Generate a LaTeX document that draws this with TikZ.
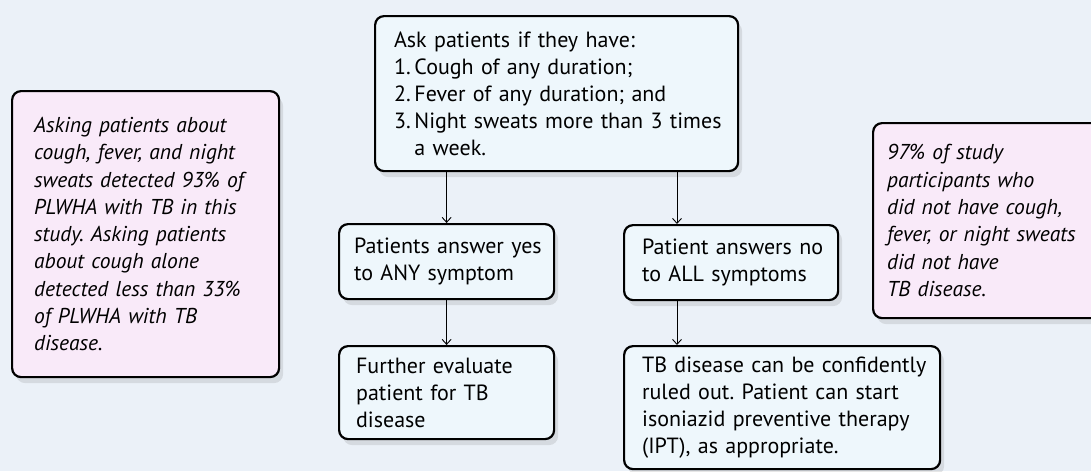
\documentclass[tikz,border=0pt]{standalone}
\usepackage{fontspec}
\setmainfont{PT Sans}
\usetikzlibrary{arrows.meta,shadows}

\definecolor{bgblue}{HTML}{EBF1F8}
\definecolor{boxblue}{HTML}{EEF7FC}
\definecolor{boxpink}{HTML}{F9EAF9}

\begin{document}
\frenchspacing
\begin{tikzpicture}[x = 1pt, y = -1pt, line width = 2.2pt,
                        flowbox/.style = {draw, fill = boxblue, rounded corners = 9pt, anchor = north west,
                                          align = left, inner xsep = 12pt, inner ysep = 0pt,
                                          font = \fontsize{22}{27}\selectfont\frenchspacing,
                                          drop shadow = {shadow xshift = 4pt, shadow yshift = -6pt, opacity = 0.2}},
                        notebox/.style = {flowbox, fill = boxpink, font = \fontsize{21.5}{27.3}\selectfont\itshape\frenchspacing},
                        arr/.style = {line width = 0.9pt, -{Straight Barb[length = 5pt, width = 9pt]}}]
      \useasboundingbox [fill = bgblue] (0, 0) rectangle (1091, 471);

      \node [flowbox, text width = 339pt, minimum height = 155pt] (ask) at (374, 15)
            {\hspace*{7pt}Ask patients if they have:\\
             \hspace*{7pt}1.\,Cough of any duration;\\
             \hspace*{7pt}2.\,Fever of any duration; and\\
             \hspace*{7pt}3.\,Night sweats more than 3 times\\
             \hspace*{7pt}\phantom{3.\,}a week.};
      \node [flowbox, text width = 191pt, minimum height = 75pt] (yes) at (338, 223)
            {\hspace*{3pt}Patients answer yes\\\hspace*{3pt}to ANY symptom};
      \node [flowbox, text width = 190pt, minimum height = 75pt] (no) at (623, 224)
            {\hspace*{6pt}Patient answers no\\\hspace*{6pt}to ALL symptoms};
      \node [flowbox, text width = 191pt, minimum height = 93pt] (further) at (338, 345)
            {\hspace*{5pt}Further evaluate\\\hspace*{5pt}patient for TB\\\hspace*{5pt}disease};
      \node [flowbox, text width = 292pt, minimum height = 123pt] (ruled) at (623, 345)
            {\hspace*{6pt}TB disease can be confidently\\\hspace*{6pt}ruled out. Patient can start\\\hspace*{6pt}isoniazid preventive therapy\\\hspace*{6pt}(IPT), as appropriate.};

      \node [notebox, text width = 233pt, minimum height = 286pt, inner xsep = 17pt] (left) at (11, 90)
            {\hspace*{5pt}Asking patients about\\\hspace*{5pt}cough, fever, and night\\\hspace*{5pt}sweats detected 93\% of\\\hspace*{5pt}PLWHA with TB in this\\\hspace*{5pt}study. Asking patients\\\hspace*{5pt}about cough alone\\\hspace*{5pt}detected less than 33\%\\\hspace*{5pt}of PLWHA with TB\\\hspace*{5pt}disease.};
      \node [notebox, text width = 210pt, minimum height = 195pt, inner xsep = 14pt] (right) at (872, 122)
            {97\% of study\\participants who\\did not have cough,\\fever, or night sweats\\did not have\\TB disease.};

      \coordinate (noline) at (677, 0);
      \draw [arr] (ask.south -| yes.north) -- (yes.north);
      \draw [arr] (ask.south -| noline) -- (no.north -| noline);
      \draw [arr] (yes.south) -- (further.north);
      \draw [arr] (no.south -| noline) -- (ruled.north -| noline);
\end{tikzpicture}
\end{document}
